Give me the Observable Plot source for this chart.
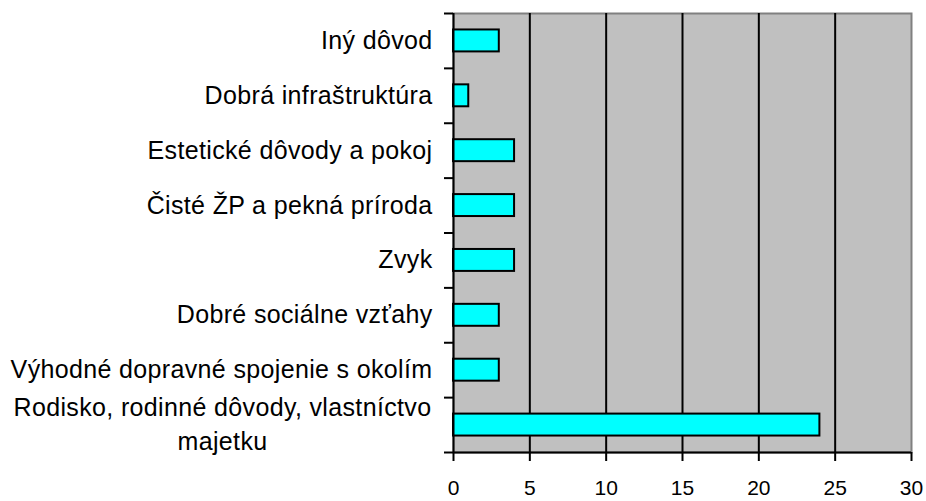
<!DOCTYPE html>
<html>
<head>
<meta charset="utf-8">
<script src="https://cdn.jsdelivr.net/npm/d3@7"></script>
<script src="https://cdn.jsdelivr.net/npm/@observablehq/plot@0.6"></script>
<style>
  html, body { margin: 0; padding: 0; background: #fff; }
  #chart svg { display: block; }
  .ylab text, .wraplab text { letter-spacing: 0.35px; }
</style>
</head>
<body>
<div id="chart"></div>
<script>
const categories = [
  "Iný dôvod",
  "Dobrá infraštruktúra",
  "Estetické dôvody a pokoj",
  "Čisté ŽP a pekná príroda",
  "Zvyk",
  "Dobré sociálne vzťahy",
  "Výhodné dopravné spojenie s okolím",
  "Rodisko, rodinné dôvody, vlastníctvo majetku"
];
const values = [3, 1, 4, 4, 4, 3, 3, 24];
const xTicks = [0, 5, 10, 15, 20, 25, 30];
const gridValues = [5, 10, 15, 20, 25];

const data = categories.map((c, i) => ({c, v: values[i], i}));
const wrapIndex = categories.length - 1;
const centers = categories.map((c, i) => i + 0.5);
const bounds = d3.range(categories.length + 1);

const chart = Plot.plot({
  width: 926,
  height: 501,
  marginLeft: 453,
  marginRight: 15,
  marginTop: 13,
  marginBottom: 49,
  style: {fontFamily: "'Liberation Sans', Arial, sans-serif", color: "black", background: "white"},
  x: {domain: [0, 30]},
  y: {domain: [categories.length, 0]},
  marks: [
    Plot.frame({fill: "#c0c0c0", stroke: "none"}),
    Plot.frame({stroke: "#808080", strokeWidth: 2}),
    Plot.ruleX(gridValues, {stroke: "black", strokeWidth: 2}),
    Plot.rectX(data, {
      x1: 0, x2: "v",
      y1: d => d.i + 0.3, y2: d => d.i + 0.7,
      fill: "#00ffff", stroke: "black", strokeWidth: 2
    }),
    Plot.ruleX([0], {stroke: "black", strokeWidth: 2}),
    Plot.ruleY([categories.length], {stroke: "black", strokeWidth: 2}),
    Plot.axisX(xTicks, {tickSize: 9, tickPadding: 19, fontSize: 21, strokeWidth: 2, label: null, stroke: "black"}),
    Plot.axisY(bounds, {tickSize: 9, tickFormat: () => "", strokeWidth: 2, label: null, stroke: "black"}),
    Plot.axisY(centers, {
      tickSize: 0, tickPadding: 21, fontSize: 25, label: null, className: "ylab",
      tickFormat: t => { const i = Math.floor(t); return i === wrapIndex ? "" : categories[i]; }
    }),
    Plot.text(data.filter(d => d.i === wrapIndex), {
      x: 0, y: d => d.i + 0.5, text: "c", className: "wraplab",
      lineWidth: 19.5, lineHeight: 1.36,
      textAnchor: "middle", dx: -231, dy: -3, fontSize: 25, fill: "black"
    })
  ]
});
document.getElementById("chart").appendChild(chart);
</script>
</body>
</html>
